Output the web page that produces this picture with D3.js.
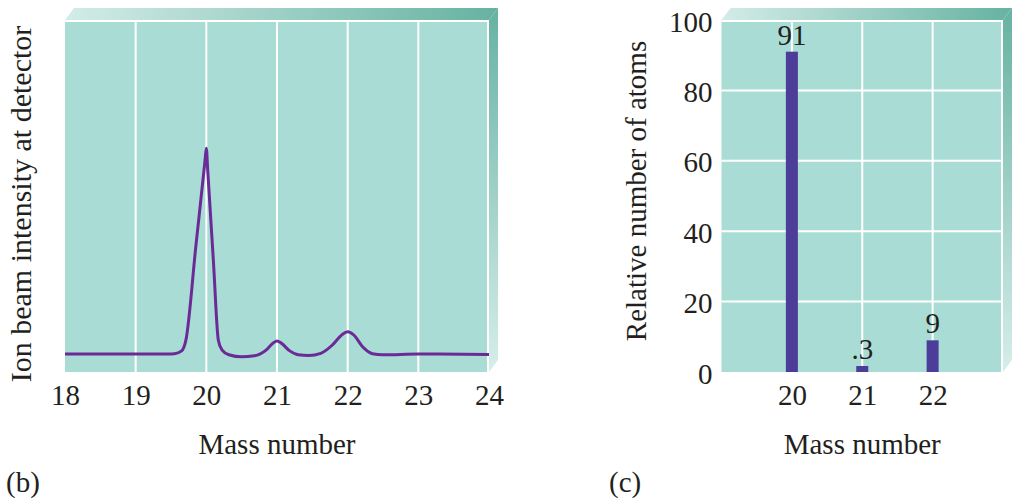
<!DOCTYPE html>
<html>
<head>
<meta charset="utf-8">
<script src="https://cdn.jsdelivr.net/npm/d3@7"></script>
<style>
  body { margin: 0; background: #fff; }
  text { font-family: 'Liberation Serif', 'Times New Roman', serif; fill: #231f20; }
</style>
</head>
<body>
<script>
// (b) ion beam trace
const massPts = [18, 19.45, 19.55, 19.65, 19.71, 19.85, 19.98, 20, 20.02, 20.1, 20.17, 20.22, 20.32, 20.5, 20.68,
  20.85, 20.95, 21, 21.06, 21.18, 21.3, 21.45, 21.62, 21.78, 21.92, 22, 22.08, 22.22, 22.35, 22.5, 23, 24];
const intensityPts = [5.1, 5.1, 5.2, 6.0, 9.0, 35.4, 59.8, 63.6, 57.2, 31.5, 9.0, 6.3, 4.9, 4.3, 4.6,
  6.3, 8.3, 8.8, 8.2, 6.0, 4.9, 4.7, 5.3, 7.6, 10.6, 11.4, 10.6, 7.0, 5.2, 4.9, 5.1, 5.0];
const massTicksB = [18, 19, 20, 21, 22, 23, 24];

// (c) relative abundance
const isotopes = [20, 21, 22];
const abundance = [91, 0.3, 9];
const abundanceLabels = ['91', '.3', '9'];
const yTicksC = [0, 20, 40, 60, 80, 100];

const W = 1023, H = 504;
const faceTop = 20, faceBottom = 372;
const bev = { dx: 9, dy: -12 };

const svg = d3.select('body').append('svg').attr('width', W).attr('height', H);
const defs = svg.append('defs');

const gTop = defs.append('linearGradient').attr('id', 'gTop').attr('x1', 0).attr('x2', 1).attr('y1', 0).attr('y2', 0);
gTop.append('stop').attr('offset', 0).attr('stop-color', '#d3ece8');
gTop.append('stop').attr('offset', 1).attr('stop-color', '#66b2a2');
const gSide = defs.append('linearGradient').attr('id', 'gSide').attr('x1', 0).attr('x2', 0).attr('y1', 0).attr('y2', 1);
gSide.append('stop').attr('offset', 0).attr('stop-color', '#66b2a2');
gSide.append('stop').attr('offset', 1).attr('stop-color', '#d6eeea');

// box with a bevelled top and right side
function drawBox(x0, x1) {
  const g = svg.append('g');
  g.append('polygon')
    .attr('points', [[x0, faceTop], [x0 + bev.dx, faceTop + bev.dy], [x1 + bev.dx, faceTop + bev.dy], [x1, faceTop]].join(' '))
    .attr('fill', 'url(#gTop)');
  g.append('polygon')
    .attr('points', [[x1, faceTop], [x1 + bev.dx, faceTop + bev.dy], [x1 + bev.dx, faceBottom + bev.dy], [x1, faceBottom]].join(' '))
    .attr('fill', 'url(#gSide)');
  g.append('rect')
    .attr('x', x0).attr('y', faceTop)
    .attr('width', x1 - x0).attr('height', faceBottom - faceTop)
    .attr('fill', '#a9dcd5');
  g.append('line')
    .attr('x1', x0).attr('x2', x1).attr('y1', faceTop + 1).attr('y2', faceTop + 1)
    .attr('stroke', '#fff').attr('stroke-width', 2);
  return g;
}

function styleAxis(g) {
  g.select('.domain').remove();
  g.selectAll('text').attr('font-size', 29).attr('fill', '#231f20')
    .style('font-family', "'Liberation Serif', serif");
}

// ---------- panel (b) ----------
const xB = d3.scaleLinear().domain([18, 24]).range([65, 489]);
const yB = d3.scaleLinear().domain([0, 100]).range([faceBottom, faceTop]);
const boxB = drawBox(65, 489);

boxB.selectAll('.vgrid')
  .data(massTicksB.slice(1))
  .enter()
  .append('line')
  .attr('x1', (d) => xB(d) - (d === 24 ? 1 : 0))
  .attr('x2', (d) => xB(d) - (d === 24 ? 1 : 0))
  .attr('y1', faceTop).attr('y2', faceBottom)
  .attr('stroke', '#fff').attr('stroke-width', 2);

const line = d3.line()
  .x((d, i) => xB(massPts[i]))
  .y((d) => yB(d))
  .curve(d3.curveMonotoneX);

svg.append('path')
  .attr('d', line(intensityPts))
  .attr('fill', 'none')
  .attr('stroke', '#6a2b96')
  .attr('stroke-width', 3);

svg.append('g')
  .attr('transform', `translate(0,${faceBottom})`)
  .call(d3.axisBottom(xB).tickValues(massTicksB).tickFormat(d3.format('d')).tickSize(0).tickPadding(12))
  .call(styleAxis);

svg.append('text')
  .attr('x', xB(21)).attr('y', 454)
  .attr('text-anchor', 'middle').attr('font-size', 29)
  .text('Mass number');

svg.append('text')
  .attr('transform', `translate(31,${(faceTop + faceBottom) / 2 + 8}) rotate(-90)`)
  .attr('text-anchor', 'middle').attr('font-size', 30)
  .text('Ion beam intensity at detector');

svg.append('text').attr('x', 6).attr('y', 492).attr('font-size', 29).text('(b)');

// ---------- panel (c) ----------
const xC = d3.scaleLinear().domain([19, 23]).range([721.5, 1003]);
const yC = d3.scaleLinear().domain([0, 100]).range([faceBottom, faceTop]);
const boxC = drawBox(721.5, 1003);

boxC.selectAll('.hgrid')
  .data(yTicksC.slice(1, -1))
  .enter()
  .append('line')
  .attr('x1', xC(19)).attr('x2', xC(23))
  .attr('y1', (d) => yC(d)).attr('y2', (d) => yC(d))
  .attr('stroke', '#fff').attr('stroke-width', 2);

boxC.selectAll('.vgrid')
  .data([20, 21, 22, 23])
  .enter()
  .append('line')
  .attr('x1', (d) => xC(d) - (d === 23 ? 1 : 0))
  .attr('x2', (d) => xC(d) - (d === 23 ? 1 : 0))
  .attr('y1', faceTop).attr('y2', faceBottom)
  .attr('stroke', '#fff').attr('stroke-width', 2);

const barW = 12;
const minBarPx = 6; // tiny .3 bar is drawn with a visible minimum height
const barTop = (v) => Math.min(yC(v), faceBottom - minBarPx);

svg.selectAll('.bar')
  .data(abundance)
  .enter()
  .append('rect')
  .attr('class', 'bar')
  .attr('x', (d, i) => xC(isotopes[i]) - barW / 2)
  .attr('y', (d) => barTop(d))
  .attr('width', barW)
  .attr('height', (d) => faceBottom - barTop(d))
  .attr('fill', '#4b3d98');

svg.selectAll('.barlabel')
  .data(abundance)
  .enter()
  .append('text')
  .attr('x', (d, i) => xC(isotopes[i]))
  .attr('y', (d) => barTop(d) - 7)
  .attr('text-anchor', 'middle')
  .attr('font-size', 29)
  .text((d, i) => abundanceLabels[i]);

svg.append('g')
  .attr('transform', `translate(0,${faceBottom})`)
  .call(d3.axisBottom(xC).tickValues(isotopes).tickFormat(d3.format('d')).tickSize(0).tickPadding(12))
  .call(styleAxis);

svg.append('g')
  .attr('transform', `translate(${xC(19)},0)`)
  .call(d3.axisLeft(yC).tickValues(yTicksC).tickSize(0).tickPadding(9))
  .call(styleAxis)
  .selectAll('text').attr('dy', '0.38em');

svg.append('text')
  .attr('x', xC(21)).attr('y', 454)
  .attr('text-anchor', 'middle').attr('font-size', 29)
  .text('Mass number');

svg.append('text')
  .attr('transform', 'translate(646,191) rotate(-90)')
  .attr('text-anchor', 'middle').attr('font-size', 29)
  .text('Relative number of atoms');

svg.append('text').attr('x', 609).attr('y', 492).attr('font-size', 29).text('(c)');
</script>
</body>
</html>
